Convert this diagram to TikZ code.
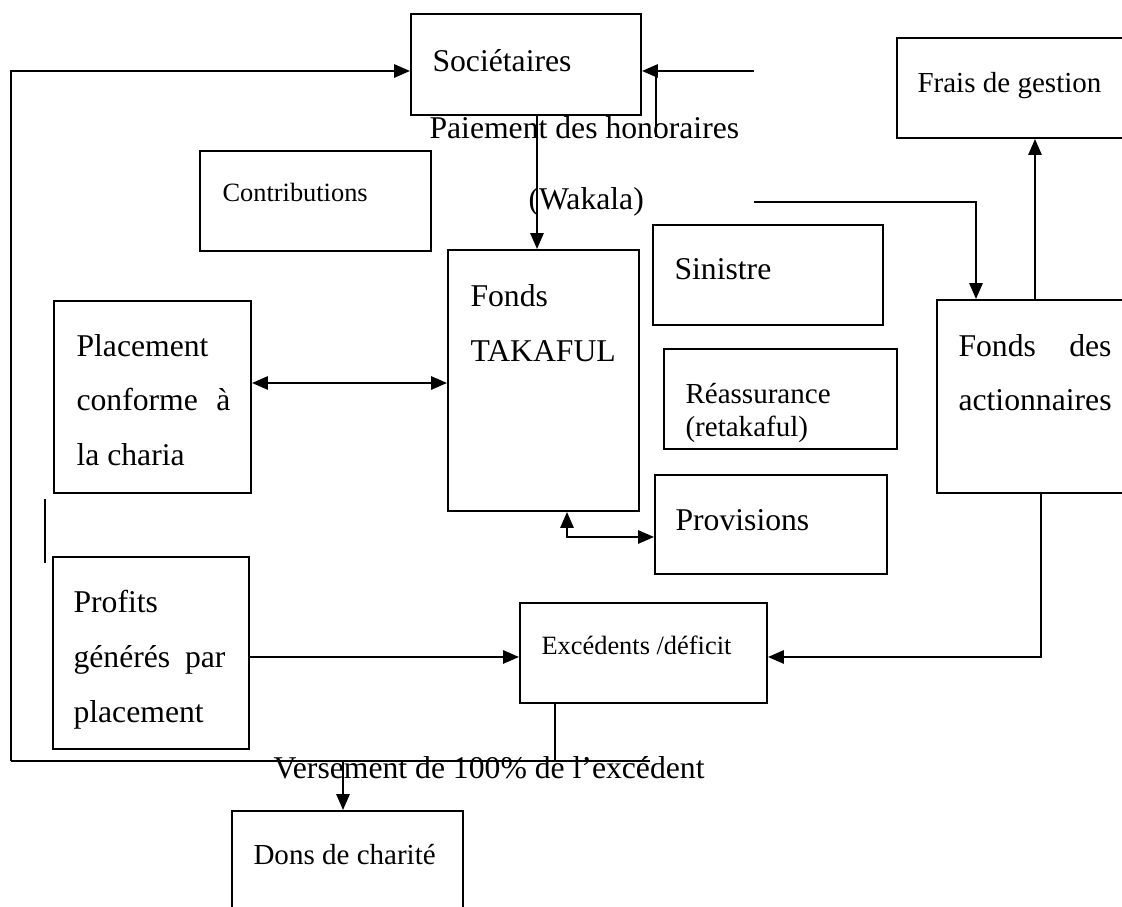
\documentclass[tikz,border=0pt]{standalone}
\usepackage{fontspec}
\setmainfont{Liberation Serif}
\usetikzlibrary{arrows.meta,fit}
\newlength\pxu
\setlength\pxu{0.37879pt}
\begin{document}
\begin{tikzpicture}[x=\pxu,y=-\pxu,
  box/.style={draw, line width=0.75pt, inner sep=0pt, rectangle},
  ln/.style={line width=0.75pt},
  arr/.style={ln, -{Triangle[length=6pt,width=5pt]}},
  dbl/.style={ln, {Triangle[length=6pt,width=5pt]}-{Triangle[length=6pt,width=5pt]}},
  txt/.style={inner sep=0pt, anchor=base west},
  fbig/.style={font=\fontsize{12}{14}\selectfont},
  fmid/.style={font=\fontsize{11}{13}\selectfont},
  fsml/.style={font=\fontsize{10}{12}\selectfont}]
\useasboundingbox (0,0) rectangle (1122,907);
\fill[white] (0,0) rectangle (1122,907);
\clip (0,0) rectangle (1122,907);

% boxes
\node[box, fit={(411,14) (641,115)}] (soc) {};
\node[box, fit={(200,151) (431,251)}] (contrib) {};
\node[box, fit={(448,250) (639,511)}] (tak) {};
\node[box, fit={(653,225) (883,325)}] (sin) {};
\node[box, fit={(664,349) (897,449)}] (reas) {};
\node[box, fit={(655,475) (887,574)}] (prov) {};
\node[box, fit={(897,38) (1140,138)}] (frais) {};
\node[box, fit={(937,300) (1140,493)}] (act) {};
\node[box, fit={(54,301) (251,493)}] (plac) {};
\node[box, fit={(53,557) (249,749)}] (prof) {};
\node[box, fit={(520,603) (767,703)}] (exc) {};
\node[box, fit={(232,811) (463,940)}] (dons) {};

% texts
\node[txt,fbig] (tsoc) at (432,72) {Sociétaires};
\node[txt,fbig] (tpai) at (429,139) {Paiement des honoraires};
\node[txt,fbig] (twak) at (528,210) {(Wakala)};
\node[txt,fsml] (tcon) at (222,202) {Contributions};
\node[txt,fbig] (ttak1) at (470,307) {Fonds};
\node[txt,fbig] (ttak2) at (470,362) {TAKAFUL};
\node[txt,fbig] (tsin) at (674,280) {Sinistre};
\node[txt,fmid] (trea1) at (685,404) {Réassurance};
\node[txt,fmid] (trea2) at (685,437) {(retakaful)};
\node[txt,fbig] (tprov) at (675,531) {Provisions};
\node[txt,fmid] (tfra) at (917,93) {Frais de gestion};
\node[txt,fbig] (tact1) at (958,357) {\makebox[153\pxu][s]{Fonds des}};
\node[txt,fbig] (tact2) at (958,411) {actionnaires};
\node[txt,fbig] (tpl1) at (76,357) {Placement};
\node[txt,fbig] (tpl2) at (76,411) {\makebox[154\pxu][s]{conforme à}};
\node[txt,fbig] (tpl3) at (76,466) {la charia};
\node[txt,fbig] (tpr1) at (73,613) {Profits};
\node[txt,fbig] (tpr2) at (73,668) {\makebox[152\pxu][s]{générés par}};
\node[txt,fbig] (tpr3) at (73,723) {placement};
\node[txt,fsml] (texc) at (541,655) {Excédents /déficit};
\node[txt,fbig] (tver) at (273,779) {Versement de 100\% de l’excédent};
\node[txt,fmid] (tdon) at (253,865) {Dons de charité};

% connectors
\coordinate (cL) at (11,71);
\coordinate (lb) at (11,761);
\coordinate (le) at (650,761);
\draw[ln] (le) -- (lb);
\draw[arr] (lb) |- (soc.west |- cL);
\coordinate (exb) at (555,761);
\draw[ln] (exc.south -| exb) -- (exb);
\coordinate (dn) at (343,761);
\draw[arr] (dn) -- (dons.north -| dn);

\coordinate (tr) at (754,71);
\draw[arr] (tr) -- (soc.east |- tr);
\coordinate (pa1) at (656,71);
\coordinate (pa2) at (656,137);
\draw[ln] (pa1) -- (pa2);
\coordinate (sx) at (537,0);
\draw[arr] (soc.south -| sx) -- (tak.north -| sx);
\coordinate (wk) at (754,202);
\coordinate (wk2) at (976,202);
\draw[arr] (wk) -- (wk2) -- (act.north -| wk2);
\coordinate (fx) at (1035,0);
\draw[arr] (act.north -| fx) -- (frais.south -| fx);
\coordinate (py) at (0,383);
\draw[dbl] (plac.east |- py) -- (tak.west |- py);
\coordinate (pv) at (567,537);
\draw[dbl] (tak.south -| pv) |- (prov.west |- pv);
\coordinate (ey) at (0,657);
\draw[arr] (prof.east |- ey) -- (exc.west |- ey);
\coordinate (ax) at (1041,657);
\draw[arr] (act.south -| ax) -- (ax) -- (exc.east |- ax);
\coordinate (s1) at (45,499);
\coordinate (s2) at (45,563);
\draw[ln] (s1) -- (s2);
\end{tikzpicture}
\end{document}
